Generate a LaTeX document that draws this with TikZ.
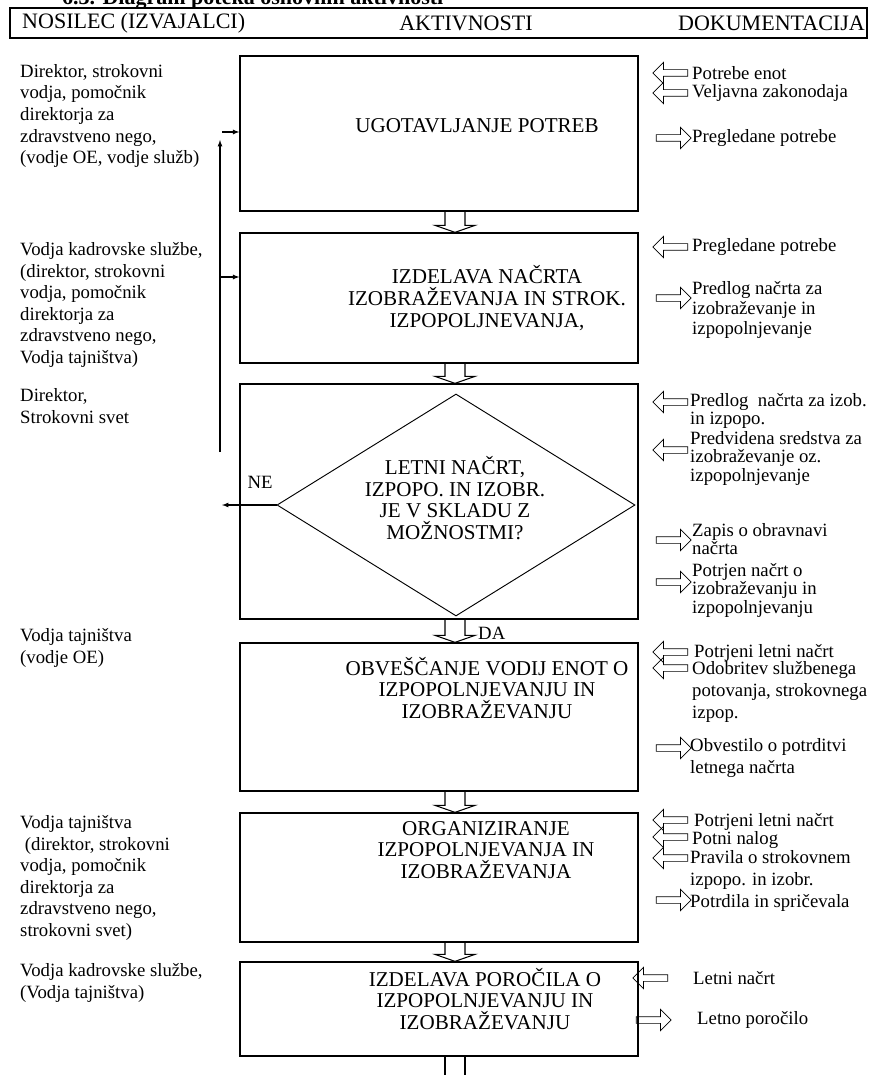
\documentclass[tikz,border=0pt]{standalone}
\usepackage{fontspec}
\setmainfont{Liberation Serif}
\usetikzlibrary{shapes.geometric,shapes.arrows,calc}

\begin{document}
\begin{tikzpicture}[x=0.03cm, y=-0.03cm,
    font=\fontsize{16}{18.4}\selectfont,
    stepbox/.style={draw, line width=1.1pt, minimum width=11.94cm, inner sep=0pt},
    boxtext/.style={align=center, font=\fontsize{18}{18.6}\selectfont},
    hdrtext/.style={font=\fontsize{18.8}{20}\selectfont, inner sep=0pt},
    note/.style={align=left, anchor=west, inner sep=0pt},
    tight/.style={note, font=\fontsize{16}{15.8}\selectfont},
    docin/.style={single arrow, draw, line width=0.6pt, shape border rotate=180, minimum height=1.05cm, inner sep=0.09cm, single arrow head extend=0.22cm},
    docout/.style={docin, shape border rotate=0},
    flow/.style={-latex, line width=0.9pt},
    blk/.style={line width=0.9pt}]
  \useasboundingbox (0,0) rectangle (869,1075);

  % naslov in glava
  \node[font=\bfseries\fontsize{18.8}{20}\selectfont, anchor=base west] (title) at (58,5) {6.3. Diagram poteka osnovnih aktivnosti};
  \node[draw, line width=1.2pt, minimum width=25.71cm, minimum height=0.9cm, inner sep=0pt] (hdr) at (438.5,23) {};
  \node[hdrtext, anchor=west] (h1) at (22,23) {NOSILEC (IZVAJALCI)};
  \node[hdrtext] (h2) at (466,23) {AKTIVNOSTI};
  \node[hdrtext, anchor=east] (h3) at (865,23) {DOKUMENTACIJA};

  % aktivnosti
  \node[stepbox, minimum height=4.65cm] (b1) at (439,133.5) {};
  \node[stepbox, minimum height=3.9cm] (b2) at (439,298) {};
  \node[stepbox, minimum height=7.05cm] (b3) at (439,501.5) {};
  \node[stepbox, minimum height=4.44cm] (b4) at (439,717) {};
  \node[stepbox, minimum height=3.87cm] (b5) at (439,877.5) {};
  \node[stepbox, minimum height=2.82cm] (b6) at (439,1009) {};
  \node[draw, diamond, line width=0.8pt, minimum width=10.74cm, minimum height=6.66cm, inner sep=0pt] (d) at (456,505) {};

  \node[boxtext] (t1) at (477,126) {UGOTAVLJANJE POTREB};
  \node[boxtext] (t2) at (487,298) {IZDELAVA NAČRTA\\IZOBRAŽEVANJA IN STROK.\\IZPOPOLJNEVANJA,};
  \node[boxtext] (t3) at (455,498) {LETNI NAČRT,\\IZPOPO. IN IZOBR.\\JE V SKLADU Z\\MOŽNOSTMI?};
  \node[boxtext] (t4) at (487,688) {OBVEŠČANJE VODIJ ENOT O\\IZPOPOLNJEVANJU IN\\IZOBRAŽEVANJU};
  \node[boxtext] (t5) at (486,850) {ORGANIZIRANJE\\IZPOPOLNJEVANJA IN\\IZOBRAŽEVANJA};
  \node[boxtext] (t6) at (485,999) {IZDELAVA POROČILA O\\IZPOPOLNJEVANJU IN\\IZOBRAŽEVANJU};

  % nosilci
  \node[note] (n1) at (20,116) {Direktor, strokovni\\vodja, pomočnik\\direktorja za\\zdravstveno nego,\\(vodje OE, vodje služb)};
  \node[note] (n2) at (20,305) {Vodja kadrovske službe,\\(direktor, strokovni\\vodja, pomočnik\\direktorja za\\zdravstveno nego,\\Vodja tajništva)};
  \node[note] (n3) at (20,406) {Direktor,\\Strokovni svet};
  \node[note] (n4) at (20,648) {Vodja tajništva\\(vodje OE)};
  \node[note] (n5) at (20,878) {Vodja tajništva\\\hspace{4pt}(direktor, strokovni\\vodja, pomočnik\\direktorja za\\zdravstveno nego,\\strokovni svet)};
  \node[note] (n6) at (20,983) {Vodja kadrovske službe,\\(Vodja tajništva)};

  % dokumentacija
  \node[docin] (i1) at (672,73) {};
  \node[note] (d1) at (692,73) {Potrebe enot};
  \node[docin] (i2) at (672,93) {};
  \node[note] (d2) at (692,93) {Veljavna zakonodaja};
  \node[docout] (o1) at (672,138) {};
  \node[note] (d3) at (692,138) {Pregledane potrebe};
  \node[docin] (i3) at (672,247) {};
  \node[note] (d4) at (692,247) {Pregledane potrebe};
  \node[docout] (o2) at (672,298) {};
  \node[note, font=\fontsize{16}{17}\selectfont] (d5) at (692,310) {Predlog načrta za\\izobraževanje in\\izpopolnjevanje};
  \node[docin] (i4) at (672,402) {};
  \node[tight] (d6) at (690,411) {Predlog\ \ načrta za izob.\\in izpopo.};
  \node[docin] (i5) at (672,450) {};
  \node[tight] (d7) at (690,458) {Predvidena sredstva za\\izobraževanje oz.\\izpopolnjevanje};
  \node[docout] (o3) at (672,540) {};
  \node[tight] (d8) at (692,539) {Zapis o obravnavi\\načrta};
  \node[docout] (o4) at (672,582) {};
  \node[tight] (d9) at (692,590) {Potrjen načrt o\\izobraževanju in\\izpopolnjevanju};
  \node[docin] (i6) at (672,652) {};
  \node[note] (d10) at (694,653) {Potrjeni letni načrt};
  \node[docin] (i7) at (672,668) {};
  \node[note] (d11) at (692,692) {Odobritev službenega\\potovanja, strokovnega\\izpop.};
  \node[docout] (o5) at (672,748) {};
  \node[note] (d12) at (690,758) {Obvestilo o potrditvi\\letnega načrta};
  \node[docin] (i8) at (672,820) {};
  \node[note] (d13) at (694,822) {Potrjeni letni načrt};
  \node[docin] (i9) at (672,837) {};
  \node[note] (d14) at (692,840) {Potni nalog};
  \node[docin] (i10) at (672,858) {};
  \node[note] (d15) at (690,870) {Pravila o strokovnem\\izpopo. in izobr.};
  \node[docout] (o6) at (672,900) {};
  \node[note] (d16) at (690,903) {Potrdila in spričevala};
  \node[docin] (i11) at (652,978) {};
  \node[note] (d17) at (693,978) {Letni načrt};
  \node[docout] (o7) at (652,1020) {};
  \node[note] (d18) at (697,1020) {Letno poročilo};

  % puscice med aktivnostmi
  \coordinate (ax) at (455,0);
  \coordinate (b7) at (455,1095);
  \foreach \u/\v in {b1/b2,b2/b3,b3/b4,b4/b5,b5/b6}
    \draw[blk] ($(\u.south -| ax)+(-10,0)$) -- ($(\v.north -| ax)+(-10,-7)$) -- ($(\v.north -| ax)+(-20,-7)$)
      -- (\v.north -| ax) -- ($(\v.north -| ax)+(20,-7)$) -- ($(\v.north -| ax)+(10,-7)$) -- ($(\u.south -| ax)+(10,0)$);
  \draw[blk] ($(b6.south -| ax)+(-10,0)$) -- ($(b7)+(-10,0)$);
  \draw[blk] ($(b6.south -| ax)+(10,0)$) -- ($(b7)+(10,0)$);
  \node[anchor=west, inner sep=0pt] (da) at (478,633) {DA};

  % vrnitev (NE)
  \node[inner sep=0pt] (ne) at (260,482) {NE};
  \coordinate (nx) at (222,509);
  \draw[flow] (d.west) -- (nx |- d.west);
  \coordinate (lp0) at (220,452);
  \coordinate (lp1) at (220,140);
  \coordinate (lp2) at (222,132);
  \coordinate (lp3) at (220,277);
  \draw[flow] (lp0) -- (lp1);
  \draw[flow] (lp2) -- (lp2 -| b1.west);
  \draw[flow] (lp3) -- (lp3 -| b2.west);
\end{tikzpicture}
\end{document}
